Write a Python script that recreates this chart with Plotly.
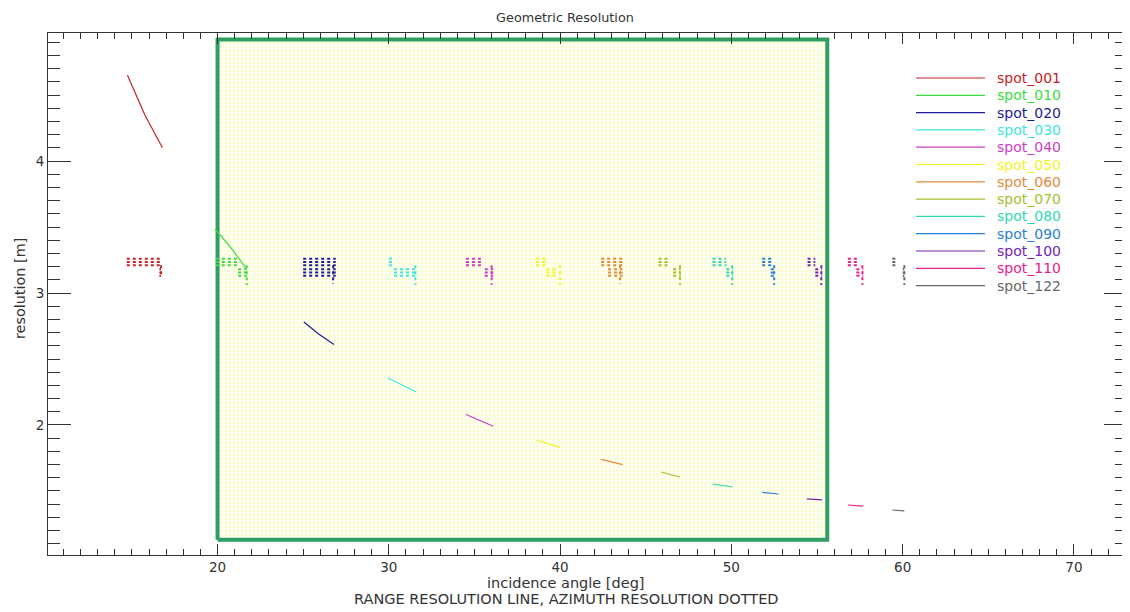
import plotly.graph_objects as go

# ---------------- data ----------------
spots = ["spot_001", "spot_010", "spot_020", "spot_030", "spot_040", "spot_050",
         "spot_060", "spot_070", "spot_080", "spot_090", "spot_100", "spot_110", "spot_122"]

# range resolution lines (start, middle, end) per spot
range_x = [[14.74, 15.75, 16.78], [19.85, 20.8, 21.65], [25.04, 25.9, 26.8],
           [29.95, 30.8, 31.6], [34.5, 35.3, 36.1], [38.6, 39.3, 40.0],
           [42.4, 43.0, 43.65], [45.9, 46.45, 47.0], [48.9, 49.5, 50.07],
           [51.8, 52.3, 52.75], [54.4, 54.9, 55.3], [56.8, 57.25, 57.7],
           [59.4, 59.75, 60.1]]
range_y = [[4.65, 4.35, 4.10], [3.485, 3.34, 3.19], [2.78, 2.69, 2.61],
           [2.356, 2.30, 2.25], [2.08, 2.035, 1.99], [1.886, 1.856, 1.83],
           [1.74, 1.72, 1.70], [1.644, 1.625, 1.606], [1.553, 1.541, 1.53],
           [1.49, 1.483, 1.477], [1.44, 1.436, 1.432], [1.394, 1.39, 1.386],
           [1.356, 1.353, 1.35]]

# azimuth resolution (dotted) clusters
az_top_x0 = [14.7, 19.9, 25.0, 30.0, 34.5, 38.6, 42.4, 45.75, 48.9, 51.8, 54.45, 56.8, 59.4]
az_top_x1 = [16.7, 21.2, 26.9, 30.3, 35.5, 39.2, 43.65, 46.4, 49.7, 52.5, 54.9, 57.4, 59.75]
az_mid_x0 = [16.6, 21.2, 25.0, 30.3, 35.6, 39.2, 42.8, 46.6, 49.7, 52.3, 54.9, 57.3, 60.0]
az_mid_x1 = [16.7, 21.7, 26.9, 31.6, 36.1, 39.9, 43.65, 47.05, 50.1, 52.5, 55.3, 57.7, 60.1]
az_tail_x = [16.7, 21.7, 26.75, 31.55, 36.0, 40.0, 43.5, 47.0, 50.05, 52.5, 55.25, 57.65, 60.1]
az_bot_y = [3.13, 3.06, 3.07, 3.06, 3.06, 3.06, 3.07, 3.06, 3.06, 3.06, 3.06, 3.06, 3.06]
az_top_rows = [3.26, 3.235, 3.21]
az_mid_rows = [3.18, 3.155, 3.13]

# highlighted incidence-angle region
box_x = [20.0, 55.6]
box_y = [1.13, 4.92]

x_tick_vals = [20, 30, 40, 50, 60, 70]
y_tick_vals = [2, 3, 4]

# ---------------- styles ----------------
colors = ["#c42424", "#3ddc3d", "#1c1c9c", "#3fe4e4", "#cc3fc4", "#f2f21e",
          "#e08c3c", "#a2c22e", "#30d8b0", "#2a80d8", "#7424b0", "#e8208c", "#666666"]
FONT = "DejaVu Sans"
TXT = "#333333"

OFF = 8                       # page body margin
W, H = 1122, 604
# plot area in absolute window pixels: left 48, right 1127, top 33, bottom 555
L, R, T, B = 48 - OFF, W - (1127 - OFF), 33 - OFF, H - (555 - OFF)
pw = W - L - R
ph = H - T - B


def px_x(p):
    return (p - OFF - L) / pw


def px_y(p):
    return (H - B - (p - OFF)) / ph


fig = go.Figure()

# yellow region with green border
fig.add_trace(go.Scatter(
    x=[box_x[0], box_x[1], box_x[1], box_x[0], box_x[0]],
    y=[box_y[0], box_y[0], box_y[1], box_y[1], box_y[0]],
    mode="lines", fill="toself",
    fillcolor="rgba(255,255,200,1)",
    fillpattern=dict(shape="+", fgcolor="#f6f65a", bgcolor="#ffffff", size=4, solidity=0.3),
    line=dict(color="#2e9e62", width=4),
    showlegend=False, hoverinfo="skip"))

for i, name in enumerate(spots):
    ax, ay = [], []
    for r in az_top_rows:
        ax += [az_top_x0[i], az_top_x1[i], None]
        ay += [r, r, None]
    for r in az_mid_rows:
        ax += [az_mid_x0[i], az_mid_x1[i], None]
        ay += [r, r, None]
    ax += [az_tail_x[i], az_tail_x[i]]
    ay += [az_top_rows[-1], az_bot_y[i]]
    fig.add_trace(go.Scatter(x=ax, y=ay, mode="lines",
                             line=dict(color=colors[i], width=2, dash="dot"),
                             showlegend=False, hoverinfo="skip"))
    fig.add_trace(go.Scatter(
        x=range_x[i], y=range_y[i], mode="lines", name=name,
        line=dict(color=colors[i], width=1.2), showlegend=False))

# legend drawn as lines + coloured labels (IDL style)
shapes = []
annotations = []
for i, name in enumerate(spots):
    yy = px_y(78 + 17.3 * i)
    shapes.append(dict(type="line", xref="paper", yref="paper",
                       x0=px_x(916), x1=px_x(985), y0=yy, y1=yy,
                       line=dict(color=colors[i], width=1.2)))
    annotations.append(dict(text=name, x=px_x(995), y=yy, xref="paper", yref="paper",
                            showarrow=False, xanchor="left", yanchor="middle",
                            font=dict(family=FONT, size=14, color=colors[i])))

annotations += [
    dict(text="incidence angle [deg]", x=px_x(566), y=px_y(583), xref="paper", yref="paper",
         showarrow=False, xanchor="center", yanchor="middle",
         font=dict(family=FONT, size=14.5, color=TXT)),
    dict(text="RANGE RESOLUTION LINE, AZIMUTH RESOLUTION DOTTED", x=px_x(566), y=px_y(599),
         xref="paper", yref="paper", showarrow=False, xanchor="center", yanchor="middle",
         font=dict(family=FONT, size=14.5, color=TXT)),
    dict(text="resolution [m]", x=px_x(20), y=px_y(289), xref="paper", yref="paper",
         showarrow=False, textangle=-90, xanchor="center", yanchor="middle",
         font=dict(family=FONT, size=14.4, color=TXT)),
]

fig.update_layout(
    width=W, height=H,
    margin=dict(l=L, r=R, t=T, b=B),
    paper_bgcolor="white", plot_bgcolor="white",
    font=dict(family=FONT, size=13, color=TXT),
    title=dict(text="Geometric Resolution", x=(565 - OFF) / W, xref="container", xanchor="center",
               y=1 - (18 - OFF) / H, yref="container", yanchor="middle",
               font=dict(family=FONT, size=12.8, color=TXT)),
    showlegend=False,
    xaxis=dict(range=[10.1, 73.1], tickvals=x_tick_vals, ticks="inside", ticklen=11,
               tickcolor=TXT, tickwidth=1,
               minor=dict(dtick=1, tick0=0, ticks="inside", ticklen=6, tickcolor=TXT),
               showline=True, linecolor=TXT, linewidth=1, mirror="ticks",
               showgrid=False, zeroline=False, tickfont=dict(size=13.5)),
    yaxis=dict(range=[1.015, 4.97], tickvals=y_tick_vals, ticks="inside", ticklen=23,
               tickcolor=TXT, tickwidth=1,
               minor=dict(dtick=0.1, tick0=0, ticks="inside", ticklen=12, tickcolor=TXT),
               showline=True, linecolor=TXT, linewidth=1, mirror="ticks",
               showgrid=False, zeroline=False, tickfont=dict(size=13.5)),
    shapes=shapes,
    annotations=annotations,
)

fig.write_html("out.html")
